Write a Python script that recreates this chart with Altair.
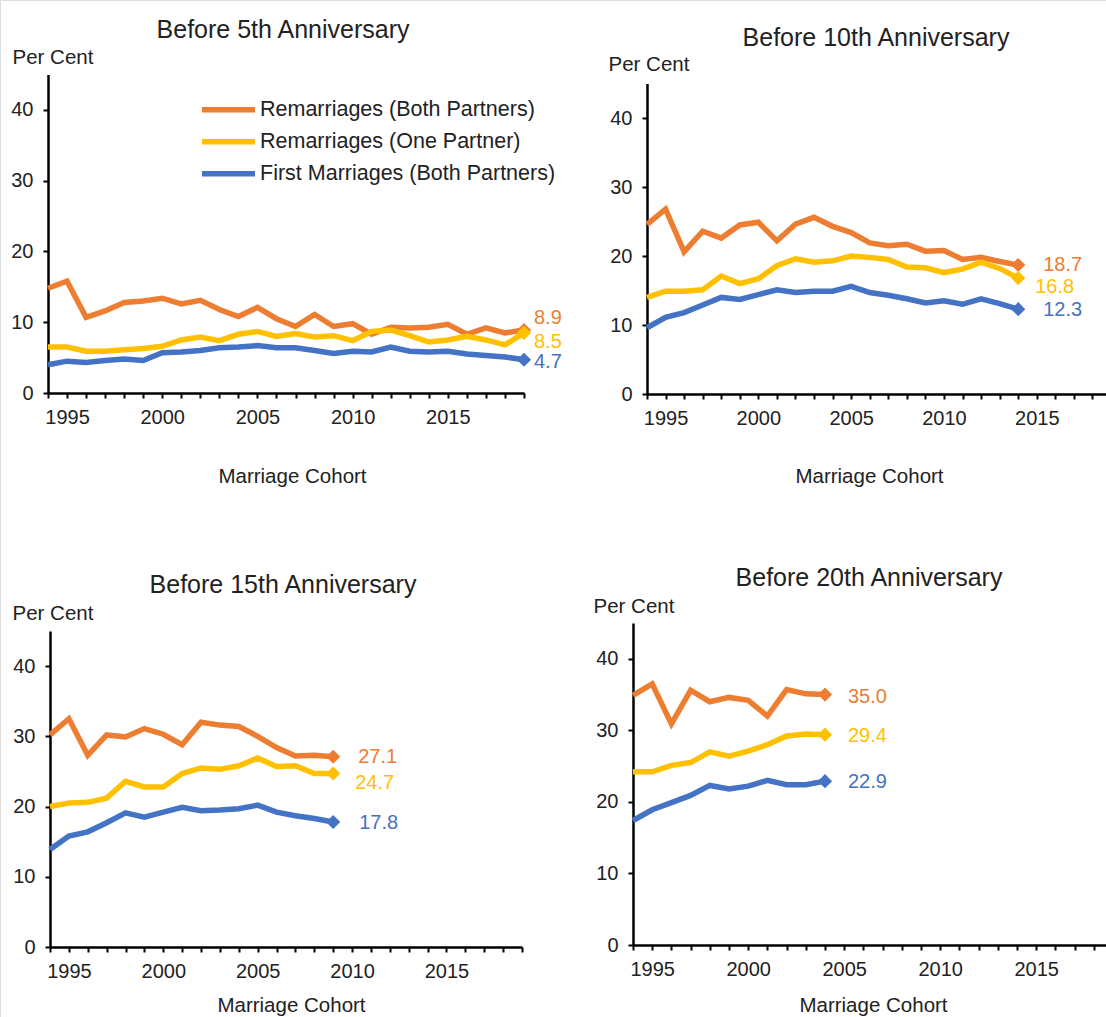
import altair as alt
import pandas as pd

# Marriage cohorts shown on every panel's axis
YEARS = list(range(1994, 2020))

SERIES = [
    "Remarriages (Both Partners)",
    "Remarriages (One Partner)",
    "First Marriages (Both Partners)",
]
COLORS = ["#ED7D31", "#FFC000", "#4472C4"]

TITLES = [
    "Before 5th Anniversary",
    "Before 10th Anniversary",
    "Before 15th Anniversary",
    "Before 20th Anniversary",
]

# Per cent of marriages dissolved before the 5th anniversary, cohorts 1994-2019
Y5_BOTH = [14.8, 15.8, 10.7, 11.6, 12.8, 13.0, 13.4, 12.6, 13.1, 11.8, 10.8, 12.1, 10.5,
           9.4, 11.1, 9.4, 9.8, 8.3, 9.3, 9.2, 9.3, 9.7, 8.3, 9.2, 8.5, 8.9]
Y5_ONE = [6.5, 6.5, 5.9, 5.9, 6.1, 6.3, 6.6, 7.5, 7.9, 7.4, 8.3, 8.7, 8.0,
          8.4, 7.9, 8.1, 7.4, 8.7, 8.9, 8.1, 7.2, 7.5, 8.0, 7.5, 6.8, 8.5]
Y5_FIRST = [4.0, 4.5, 4.3, 4.6, 4.8, 4.6, 5.7, 5.8, 6.0, 6.4, 6.5, 6.7, 6.4,
            6.4, 6.0, 5.6, 5.9, 5.8, 6.5, 5.9, 5.8, 5.9, 5.5, 5.3, 5.1, 4.7]

# Before the 10th anniversary, cohorts 1994-2014
Y10_BOTH = [24.6, 26.8, 20.6, 23.6, 22.6, 24.5, 24.9, 22.2, 24.6, 25.6, 24.3,
            23.4, 21.9, 21.5, 21.7, 20.7, 20.8, 19.5, 19.8, 19.2, 18.7]
Y10_ONE = [14.0, 14.9, 14.9, 15.1, 17.1, 16.0, 16.7, 18.6, 19.6, 19.1, 19.3,
           20.0, 19.8, 19.5, 18.4, 18.3, 17.6, 18.1, 19.1, 18.2, 16.8]
Y10_FIRST = [9.6, 11.1, 11.8, 12.9, 14.0, 13.7, 14.4, 15.1, 14.7, 14.9, 14.9,
             15.6, 14.7, 14.3, 13.8, 13.2, 13.5, 13.0, 13.8, 13.1, 12.3]

# Before the 15th anniversary, cohorts 1994-2009
Y15_BOTH = [30.2, 32.5, 27.3, 30.2, 29.9, 31.1, 30.3, 28.8, 32.0, 31.6, 31.4,
            30.0, 28.4, 27.2, 27.3, 27.1]
Y15_ONE = [20.0, 20.5, 20.6, 21.2, 23.6, 22.8, 22.8, 24.7, 25.5, 25.3, 25.8,
           26.9, 25.7, 25.8, 24.7, 24.7]
Y15_FIRST = [13.9, 15.8, 16.4, 17.7, 19.1, 18.5, 19.2, 19.9, 19.4, 19.5, 19.7,
             20.2, 19.2, 18.7, 18.3, 17.8]

# Before the 20th anniversary, cohorts 1994-2004
Y20_BOTH = [34.9, 36.5, 30.9, 35.6, 34.0, 34.6, 34.2, 32.0, 35.7, 35.1, 35.0]
Y20_ONE = [24.2, 24.2, 25.1, 25.5, 27.0, 26.4, 27.1, 28.0, 29.2, 29.5, 29.4]
Y20_FIRST = [17.4, 18.9, 19.9, 20.9, 22.3, 21.8, 22.2, 23.0, 22.4, 22.4, 22.9]

PANEL_DATA = [
    [Y5_BOTH, Y5_ONE, Y5_FIRST],
    [Y10_BOTH, Y10_ONE, Y10_FIRST],
    [Y15_BOTH, Y15_ONE, Y15_FIRST],
    [Y20_BOTH, Y20_ONE, Y20_FIRST],
]

W, H = 1106, 1017
FONT = "Liberation Sans"
INK = "#222222"

# Pixel frame of each panel: x range for 1994..2019, y for 0 and 45 per cent,
# plus the placement of titles and the end-label nudges (dx, dy) per series.
FRAMES = [
    dict(x0=48, x1=524, y0=393, ytop=74.6, title=(283, 38), percent=(12, 63),
         cohort=(292, 482), nudge=[(10, -12), (10, 9), (10, 2)]),
    dict(x0=647, x1=1111, y0=394, ytop=83.5, title=(876, 46), percent=(608, 70),
         cohort=(869, 482), nudge=[(25, 0), (17, 9), (25, 1)]),
    dict(x0=50, x1=522, y0=947, ytop=631, title=(283, 593), percent=(12, 619),
         cohort=(291, 1011), nudge=[(25, 0), (22, 9), (26, 1)]),
    dict(x0=633, x1=1113, y0=945, ytop=623, title=(869, 586), percent=(593, 612),
         cohort=(873, 1011), nudge=[(23, 2), (23, 1), (23, 1)]),
]

legend = alt.Legend(
    title=None, orient="none", legendX=199, legendY=94, direction="vertical",
    symbolType="stroke", symbolStrokeWidth=5.5, symbolSize=2809, clipHeight=31.5,
    rowPadding=0, labelFontSize=21.5, labelColor=INK, labelFont=FONT,
    labelOffset=2, labelLimit=0, padding=0,
)


def panel(k):
    f = FRAMES[k]
    rows = []
    for name, values in zip(SERIES, PANEL_DATA[k]):
        for year, v in zip(YEARS, values):
            rows.append({"series": name, "year": year, "value": v})
    df = pd.DataFrame(rows)

    x = alt.X(
        "year:Q",
        scale=alt.Scale(domain=[1994, 2019], range=[f["x0"], f["x1"]], nice=False, zero=False),
        axis=alt.Axis(
            orient="bottom", offset=f["y0"] - H, values=YEARS, format="d",
            labelExpr="datum.value % 5 == 0 ? datum.label : ''", labelOverlap=False,
            labelFlush=False, labelPadding=9, title="Marriage Cohort",
            titleX=f["cohort"][0], titleY=f["cohort"][1] - f["y0"],
            titleAlign="center", titleBaseline="alphabetic", titleAnchor=None,
        ),
    )
    y = alt.Y(
        "value:Q",
        scale=alt.Scale(domain=[0, 45], range=[f["y0"], f["ytop"]], nice=False, zero=True),
        axis=alt.Axis(
            orient="left", offset=-f["x0"], values=[0, 10, 20, 30, 40], labelPadding=10,
            title="Per Cent", titleAngle=0, titleAlign="left", titleBaseline="alphabetic",
            titleX=f["percent"][0] - f["x0"], titleY=f["percent"][1], titleAnchor=None,
        ),
    )

    lines = alt.Chart(df).mark_line(strokeWidth=5.5).encode(
        x=x, y=y,
        color=alt.Color("series:N", scale=alt.Scale(domain=SERIES, range=COLORS), legend=legend),
    )
    layers = [lines]

    last = df[df["year"] == df.groupby("series")["year"].transform("max")]
    for i, name in enumerate(SERIES):
        end = last[last["series"] == name]
        dx, dy = f["nudge"][i]
        layers.append(
            alt.Chart(end).mark_point(shape="diamond", filled=True, size=200, opacity=1,
                                      color=COLORS[i]).encode(x=x, y=y)
        )
        layers.append(
            alt.Chart(end).mark_text(align="left", baseline="middle", dx=dx, dy=dy,
                                     fontSize=20, font=FONT, color=COLORS[i]).encode(
                x=x, y=y, text=alt.Text("value:Q", format=".1f"))
        )

    head = alt.Chart(pd.DataFrame({"t": [TITLES[k]]})).mark_text(
        align="center", baseline="alphabetic", fontSize=25, font=FONT, color=INK
    ).encode(text="t:N", x=alt.value(f["title"][0]), y=alt.value(f["title"][1]))
    layers.append(head)
    return alt.layer(*layers)


chart = (
    alt.layer(*[panel(k) for k in range(4)])
    .resolve_scale(x="independent", y="independent", color="shared")
    .properties(width=W, height=H, padding=0, background="white",
                autosize=alt.AutoSizeParams(type="none"))
    .configure_view(stroke=None)
    .configure(font=FONT)
    .configure_axis(
        grid=False, domainColor="#000000", domainWidth=2.5, tickColor="#000000",
        tickWidth=2, tickSize=5, labelFontSize=20, labelColor=INK, labelFont=FONT,
        titleFontSize=20.5, titleFontWeight="normal", titleColor=INK, titleFont=FONT,
    )
)

chart.save("out.html", embed_options={"renderer": "svg", "actions": False})
